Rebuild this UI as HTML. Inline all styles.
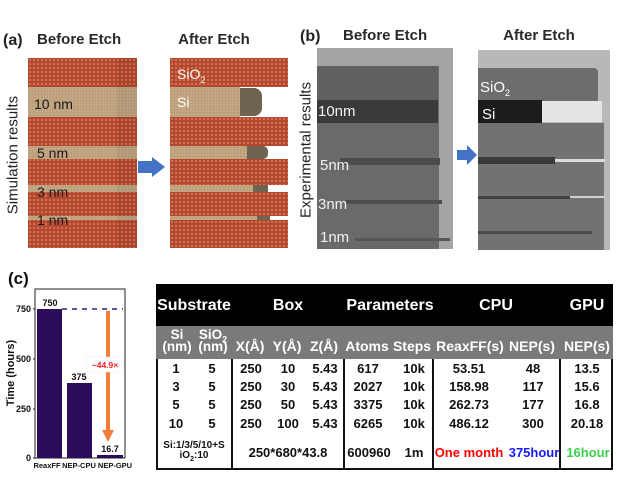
<!DOCTYPE html>
<html><head><meta charset="utf-8">
<style>
*{margin:0;padding:0;box-sizing:border-box}
body{width:617px;height:489px;background:#fff;position:relative;overflow:hidden;font-family:"Liberation Sans",Arial,sans-serif}
.a{position:absolute}
.t{position:absolute;white-space:nowrap;line-height:1}
.hd{font-weight:bold;font-size:15px;color:#2a2a2a}
.ox{background-color:#b3472d;background-image:radial-gradient(circle,rgba(240,150,120,.55) 0.9px,transparent 1.4px);background-size:4px 4px}
.si{background-color:#c6aa86;background-image:radial-gradient(circle,rgba(150,120,90,.35) 0.8px,transparent 1.2px);background-size:3px 3px}
.et{background-color:#6f6352}
.c{transform:translateX(-50%)}
.w{color:#fff;font-weight:bold}
.d{font-weight:bold;font-size:13px;color:#111}
.vl{position:absolute;top:359px;height:111px;width:2px;background:#111}
</style></head><body>

<!-- Panel (a) -->
<div class="t hd" style="left:3px;top:33px;font-size:16px;color:#222">(a)</div>
<div class="t hd" style="left:37px;top:32px">Before Etch</div>
<div class="t hd c" style="left:214px;top:32px">After Etch</div>
<div class="t" style="left:13px;top:155px;font-size:15px;color:#222;transform:translate(-50%,-50%) rotate(-90deg)">Simulation results</div>

<!-- before block -->
<div class="a ox" style="left:28px;top:58px;width:109px;height:190px"></div>
<div class="a si" style="left:28px;top:87px;width:109px;height:30px"></div>
<div class="a si" style="left:28px;top:146px;width:109px;height:13px"></div>
<div class="a si" style="left:28px;top:185px;width:109px;height:7px"></div>
<div class="a si" style="left:28px;top:216px;width:109px;height:4px"></div>
<div class="a" style="left:117px;top:58px;width:20px;height:190px;background:rgba(0,0,0,.06)"></div>
<div class="t" style="left:34px;top:97px;font-size:14px;color:#1a1a1a">10 nm</div>
<div class="t" style="left:37px;top:146px;font-size:14px;color:#1a1a1a">5 nm</div>
<div class="t" style="left:37px;top:185px;font-size:14px;color:#1a1a1a">3 nm</div>
<div class="t" style="left:37px;top:213px;font-size:14px;color:#1a1a1a">1 nm</div>

<!-- arrow a -->
<div class="a" style="left:138px;top:161px;width:14px;height:12px;background:#4472c4"></div>
<div class="a" style="left:152px;top:157px;width:0;height:0;border-top:10px solid transparent;border-bottom:10px solid transparent;border-left:13px solid #4472c4"></div>

<!-- after block -->
<div class="a ox" style="left:170px;top:58px;width:118px;height:29px"></div>
<div class="a si" style="left:170px;top:87px;width:70px;height:30px"></div>
<div class="a et" style="left:240px;top:88px;width:22px;height:28px;border-radius:0 8px 8px 0"></div>
<div class="a ox" style="left:170px;top:117px;width:118px;height:29px"></div>
<div class="a si" style="left:170px;top:146px;width:77px;height:13px"></div>
<div class="a et" style="left:247px;top:146px;width:21px;height:13px;border-radius:0 5px 5px 0"></div>
<div class="a ox" style="left:170px;top:159px;width:118px;height:26px"></div>
<div class="a si" style="left:170px;top:185px;width:83px;height:7px"></div>
<div class="a et" style="left:253px;top:185px;width:15px;height:7px"></div>
<div class="a ox" style="left:170px;top:192px;width:118px;height:24px"></div>
<div class="a si" style="left:170px;top:216px;width:87px;height:4px"></div>
<div class="a et" style="left:257px;top:216px;width:13px;height:4px"></div>
<div class="a ox" style="left:170px;top:220px;width:118px;height:28px"></div>
<div class="t" style="left:177px;top:67px;font-size:14px;color:#fff">SiO<sub style="font-size:9px">2</sub></div>
<div class="t" style="left:177px;top:95px;font-size:14px;color:#fff">Si</div>

<!-- Panel (b) -->
<div class="t hd" style="left:300px;top:29px;font-size:16px;color:#222">(b)</div>
<div class="t hd" style="left:343px;top:28px">Before Etch</div>
<div class="t hd c" style="left:539px;top:28px">After Etch</div>
<div class="t" style="left:306px;top:150px;font-size:15px;color:#222;transform:translate(-50%,-50%) rotate(-90deg)">Experimental results</div>

<!-- before image b -->
<div class="a" style="left:317px;top:48px;width:136px;height:201px;background:#a4a4a4"></div>
<div class="a" style="left:317px;top:66px;width:122px;height:183px;background:#6a6a6a"></div>
<div class="a" style="left:317px;top:66px;width:121px;height:34px;background:#606060"></div>
<div class="a" style="left:317px;top:100px;width:121px;height:23px;background:#3a3a3a"></div>
<div class="a" style="left:340px;top:158px;width:100px;height:7px;background:#4c4c4c"></div>
<div class="a" style="left:345px;top:200px;width:97px;height:4px;background:#4e4e4e"></div>
<div class="a" style="left:355px;top:238px;width:95px;height:3px;background:#565656"></div>
<div class="t" style="left:318px;top:104px;font-size:15px;color:#f2f2f2">10nm</div>
<div class="t" style="left:320px;top:158px;font-size:15px;color:#f2f2f2">5nm</div>
<div class="t" style="left:318px;top:197px;font-size:15px;color:#f2f2f2">3nm</div>
<div class="t" style="left:320px;top:230px;font-size:15px;color:#f2f2f2">1nm</div>

<!-- arrow b -->
<div class="a" style="left:457px;top:150px;width:10px;height:10px;background:#4472c4"></div>
<div class="a" style="left:467px;top:145px;width:0;height:0;border-top:10px solid transparent;border-bottom:10px solid transparent;border-left:10px solid #4472c4"></div>

<!-- after image b -->
<div class="a" style="left:478px;top:50px;width:132px;height:200px;background:#b8b8b8"></div>
<div class="a" style="left:478px;top:68px;width:120px;height:42px;background:#6d6d6d;border-radius:0 4px 10px 0"></div>
<div class="a" style="left:542px;top:101px;width:60px;height:21px;background:#e4e4e4"></div>
<div class="a" style="left:478px;top:100px;width:64px;height:23px;background:#1c1c1c"></div>
<div class="a" style="left:478px;top:123px;width:126px;height:127px;background:#727272"></div>
<div class="a" style="left:478px;top:157px;width:77px;height:7px;background:#3a3a3a"></div>
<div class="a" style="left:555px;top:159px;width:50px;height:3px;background:#dcdcdc"></div>
<div class="a" style="left:478px;top:196px;width:92px;height:3px;background:#404040"></div>
<div class="a" style="left:570px;top:196px;width:35px;height:2px;background:#d0d0d0"></div>
<div class="a" style="left:478px;top:231px;width:114px;height:3px;background:#4a4a4a"></div>
<div class="t" style="left:480px;top:80px;font-size:15px;color:#fff">SiO<sub style="font-size:9px">2</sub></div>
<div class="t" style="left:482px;top:107px;font-size:15px;color:#fff">Si</div>

<!-- Panel (c) chart -->
<div class="t" style="left:8px;top:270px;font-size:17px;font-weight:bold;color:#111">(c)</div>
<svg class="a" style="left:0;top:280px" width="150" height="209" viewBox="0 280 150 209">
  <rect x="35" y="289" width="90" height="169" fill="none" stroke="#222" stroke-width="1"/>
  <rect x="37" y="309" width="25" height="149" fill="#2c0b5a"/>
  <rect x="67" y="383" width="25" height="75" fill="#2c0b5a"/>
  <rect x="97" y="455" width="26" height="3" fill="#2c0b5a"/>
  <line x1="62" y1="309" x2="123" y2="309" stroke="#3a1f80" stroke-width="1.5" stroke-dasharray="5,5"/>
  <line x1="108" y1="311" x2="108" y2="431" stroke="#f07e3a" stroke-width="4"/>
  <polygon points="102,430 114,430 108,442" fill="#f07e3a"/>
  <rect x="86" y="357" width="38" height="15" fill="#fff" stroke="#eee" stroke-width="0.5"/>
  <text x="105" y="368" font-family="Liberation Sans,Arial,sans-serif" font-size="8.5" font-weight="bold" fill="#ff2020" text-anchor="middle">~44.9×</text>
  <g font-family="Liberation Sans,Arial,sans-serif" font-size="9" font-weight="bold" fill="#111">
    <text x="50" y="306" text-anchor="middle">750</text>
    <text x="79" y="380" text-anchor="middle">375</text>
    <text x="110" y="452" text-anchor="middle">16.7</text>
    <text x="31" y="312" text-anchor="end">750</text>
    <text x="31" y="362" text-anchor="end">500</text>
    <text x="31" y="412" text-anchor="end">250</text>
    <text x="31" y="461" text-anchor="end">0</text>
  </g>
  <g stroke="#222" stroke-width="1">
    <line x1="33" y1="309" x2="35" y2="309"/><line x1="33" y1="359" x2="35" y2="359"/>
    <line x1="33" y1="409" x2="35" y2="409"/><line x1="33" y1="458" x2="35" y2="458"/>
  </g>
  <g font-family="Liberation Sans,Arial,sans-serif" font-size="7.5" font-weight="bold" fill="#111">
    <text x="47" y="468" text-anchor="middle">ReaxFF</text>
    <text x="79" y="468" text-anchor="middle">NEP-CPU</text>
    <text x="115" y="468" text-anchor="middle">NEP-GPU</text>
  </g>
  <text transform="translate(14,373) rotate(-90)" font-family="Liberation Sans,Arial,sans-serif" font-size="11" font-weight="bold" fill="#111" text-anchor="middle">Time (hours)</text>
</svg>

<!-- Table -->
<div class="a" style="left:156px;top:284px;width:457px;height:186px;border:2px solid #111;background:#fff"></div>
<div class="a" style="left:156px;top:284px;width:457px;height:42px;background:#000"></div>
<div class="a" style="left:156px;top:326px;width:457px;height:33px;background:#7a7a7a"></div>
<div class="vl" style="left:231px"></div>
<div class="vl" style="left:343px"></div>
<div class="vl" style="left:432px"></div>
<div class="vl" style="left:559px"></div>

<div class="t w c" style="left:194px;top:298px;font-size:16px">Substrate</div>
<div class="t w c" style="left:288px;top:298px;font-size:16px">Box</div>
<div class="t w c" style="left:390px;top:298px;font-size:16px">Parameters</div>
<div class="t w c" style="left:496px;top:298px;font-size:16px">CPU</div>
<div class="t w c" style="left:587px;top:298px;font-size:16px">GPU</div>

<div class="t w c" style="left:177px;top:329px;font-size:13.5px;text-align:center;line-height:12px">Si<br>(nm)</div>
<div class="t w c" style="left:213px;top:329px;font-size:13.5px;text-align:center;line-height:12px">SiO<sub style="font-size:9px;line-height:0">2</sub><br>(nm)</div>
<div class="t w c" style="left:250px;top:339px;font-size:14px">X(Å)</div>
<div class="t w c" style="left:287px;top:339px;font-size:14px">Y(Å)</div>
<div class="t w c" style="left:324px;top:339px;font-size:14px">Z(Å)</div>
<div class="t w c" style="left:367px;top:339px;font-size:14px">Atoms</div>
<div class="t w c" style="left:412px;top:339px;font-size:14px">Steps</div>
<div class="t w c" style="left:470px;top:339px;font-size:14px">ReaxFF(s)</div>
<div class="t w c" style="left:532px;top:339px;font-size:14px">NEP(s)</div>
<div class="t w c" style="left:587px;top:339px;font-size:14px">NEP(s)</div>

<!-- rows -->
<div class="t d c" style="left:176px;top:362px">1</div><div class="t d c" style="left:212px;top:362px">5</div><div class="t d c" style="left:251px;top:362px">250</div><div class="t d c" style="left:288px;top:362px">10</div><div class="t d c" style="left:325px;top:362px">5.43</div><div class="t d c" style="left:368px;top:362px">617</div><div class="t d c" style="left:414px;top:362px">10k</div><div class="t d c" style="left:469px;top:362px">53.51</div><div class="t d c" style="left:533px;top:362px">48</div><div class="t d c" style="left:587px;top:362px">13.5</div>

<div class="t d c" style="left:176px;top:380px">3</div><div class="t d c" style="left:212px;top:380px">5</div><div class="t d c" style="left:251px;top:380px">250</div><div class="t d c" style="left:288px;top:380px">30</div><div class="t d c" style="left:325px;top:380px">5.43</div><div class="t d c" style="left:368px;top:380px">2027</div><div class="t d c" style="left:414px;top:380px">10k</div><div class="t d c" style="left:469px;top:380px">158.98</div><div class="t d c" style="left:533px;top:380px">117</div><div class="t d c" style="left:587px;top:380px">15.6</div>

<div class="t d c" style="left:176px;top:398px">5</div><div class="t d c" style="left:212px;top:398px">5</div><div class="t d c" style="left:251px;top:398px">250</div><div class="t d c" style="left:288px;top:398px">50</div><div class="t d c" style="left:325px;top:398px">5.43</div><div class="t d c" style="left:368px;top:398px">3375</div><div class="t d c" style="left:414px;top:398px">10k</div><div class="t d c" style="left:469px;top:398px">262.73</div><div class="t d c" style="left:533px;top:398px">177</div><div class="t d c" style="left:587px;top:398px">16.8</div>

<div class="t d c" style="left:176px;top:417px">10</div><div class="t d c" style="left:212px;top:417px">5</div><div class="t d c" style="left:251px;top:417px">250</div><div class="t d c" style="left:288px;top:417px">100</div><div class="t d c" style="left:325px;top:417px">5.43</div><div class="t d c" style="left:368px;top:417px">6265</div><div class="t d c" style="left:414px;top:417px">10k</div><div class="t d c" style="left:469px;top:417px">486.12</div><div class="t d c" style="left:533px;top:417px">300</div><div class="t d c" style="left:587px;top:417px">20.18</div>

<div class="t c" style="left:194px;top:441px;font-size:10px;font-weight:bold;color:#111;text-align:center;line-height:10px">Si:1/3/5/10+S<br>iO<sub style="font-size:7px;line-height:0">2</sub>:10</div>
<div class="t d c" style="left:288px;top:446px">250*680*43.8</div>
<div class="t d c" style="left:369px;top:446px">600960</div>
<div class="t d c" style="left:414px;top:446px">1m</div>
<div class="t d c" style="left:469px;top:446px;color:#ff0000">One month</div>
<div class="t d c" style="left:534px;top:446px;color:#1a1aff">375hour</div>
<div class="t d c" style="left:588px;top:446px;color:#3ccf4e">16hour</div>

</body></html>
